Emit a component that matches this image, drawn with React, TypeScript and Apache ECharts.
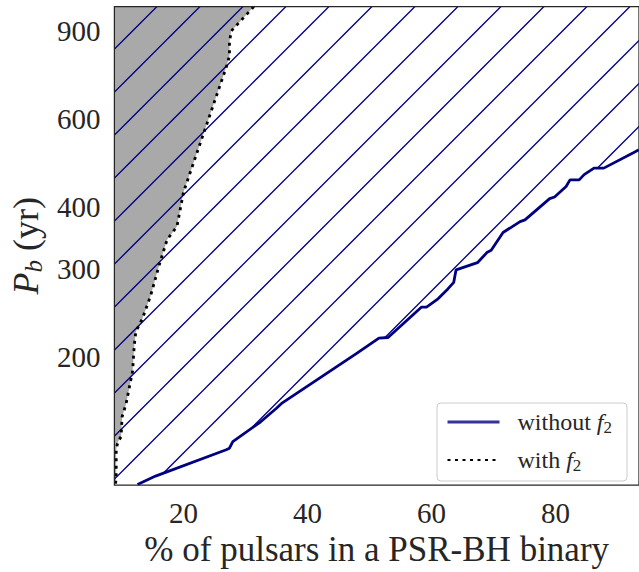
import React, { useEffect, useRef } from 'react';
import * as echarts from 'echarts';

// ---- data ----
const X_TICKS = [20, 40, 60, 80];
const Y_TICKS = [200, 300, 400, 600, 900];
const X_RANGE = [8.84, 93.46];
const Y_RANGE = [110.7, 1010];

// "without f2" (solid navy curve): % of pulsars vs P_b (yr)
const WITHOUT_X = [12.57, 15.48, 26.88, 27.4, 27.94, 32.44, 34.98, 35.93, 47.8, 51.51, 52.98, 58.39, 59.18, 61.04, 62.63, 63.58, 63.95, 67.4, 68.99, 69.62, 71.53, 74.28, 75.07, 79.05, 79.84, 81.7, 82.33, 83.81, 84.61, 86.2, 87.78, 92.55, 93.46];
const WITHOUT_P = [111.0, 115.4, 130.3, 131.3, 135.3, 148.3, 157.9, 161.9, 202.9, 218.3, 218.9, 252.0, 252.0, 261.8, 274.0, 282.4, 299.2, 309.3, 324.7, 327.7, 355.6, 374.0, 376.9, 415.8, 419.0, 439.9, 453.4, 453.4, 464.5, 478.7, 478.7, 514.1, 521.2];

// "with f2" (dotted black curve, boundary of the grey region)
const WITH_X = [9.03, 9.13, 9.13, 9.4, 9.92, 10.08, 10.72, 11.78, 12.05, 12.3, 13.37, 14.69, 16.02, 17.34, 18.93, 19.99, 26.88, 27.4, 27.4, 27.67, 31.37];
const WITH_P = [111.4, 115.4, 130.3, 135.3, 138.4, 151.7, 161.1, 187.5, 211.7, 224.9, 239.0, 265.8, 304.6, 344.0, 365.5, 428.6, 762.8, 804.1, 855.0, 901.3, 1010.6];

const SERIES_NAMES = ['without f2', 'with f2'];

const FONT = '"Liberation Serif", "DejaVu Serif", serif';
const INK = '#262626';
const NAVY = '#000080';

const HATCH_SVG =
  '<svg xmlns="http://www.w3.org/2000/svg" width="43" height="43">' +
  '<path d="M-2,36.5 L36.5,-2 M32.5,45 L45,32.5" stroke="#000080" stroke-width="1.3" fill="none"/></svg>';
const HATCH_URL = 'data:image/svg+xml;charset=utf-8,' + encodeURIComponent(HATCH_SVG);

export default function App() {
  const ref = useRef<HTMLDivElement>(null);

  useEffect(() => {
    if (!ref.current) return;
    const chart = echarts.init(ref.current, null, { renderer: 'svg' });

    const withoutPts = WITHOUT_X.map((x, i) => [x, WITHOUT_P[i]]);
    const withPts = WITH_X.map((x, i) => [x, WITH_P[i]]);

    const greyPoly = withPts.concat([
      [X_RANGE[0], Y_RANGE[1]],
      [X_RANGE[0], Y_RANGE[0]],
    ]);
    const hatchPoly = [[X_RANGE[0], Y_RANGE[0]]].concat(withoutPts, [
      [X_RANGE[1], Y_RANGE[1]],
      [X_RANGE[0], Y_RANGE[1]],
    ]);

    const polySeries = (name: string, pts: number[][], fill: any) => ({
      type: 'custom',
      name,
      silent: true,
      clip: true,
      data: [[X_RANGE[0], Y_RANGE[0]]],
      renderItem: (_p: any, api: any) => ({
        type: 'polygon',
        shape: { points: pts.map((p) => api.coord(p)) },
        style: { fill, stroke: 'none' },
      }),
    });

    const legendRich = {
      t: { fontFamily: FONT, fontSize: 24, color: INK, padding: [0, 0, 0, 13] },
      i: { fontFamily: FONT, fontSize: 24, fontStyle: 'italic', color: INK },
      s: { fontFamily: FONT, fontSize: 17, color: INK, verticalAlign: 'bottom', lineHeight: 20 },
    };

    chart.setOption({
      animation: false,
      backgroundColor: '#ffffff',
      textStyle: { fontFamily: FONT },
      grid: {
        show: true,
        z: 10,
        left: 111.5,
        top: 6.5,
        right: -5,
        bottom: 79.5,
        borderColor: INK,
        borderWidth: 1.25,
        backgroundColor: 'transparent',
      },
      xAxis: {
        type: 'value',
        min: X_RANGE[0],
        max: X_RANGE[1],
        axisLine: { show: false },
        axisTick: { show: false },
        splitLine: { show: false },
        axisLabel: {
          customValues: X_TICKS,
          fontFamily: FONT,
          fontSize: 29,
          color: INK,
          margin: 13,
        },
        name: '% of pulsars in a PSR-BH binary',
        nameLocation: 'middle',
        nameGap: 43,
        nameTextStyle: { fontFamily: FONT, fontSize: 35, color: INK },
      },
      yAxis: {
        type: 'log',
        min: Y_RANGE[0],
        max: Y_RANGE[1],
        axisLine: { show: false },
        axisTick: { show: false },
        splitLine: { show: false },
        minorTick: { show: false },
        axisLabel: {
          customValues: Y_TICKS,
          formatter: (v: number) => String(Math.round(v)),
          fontFamily: FONT,
          fontSize: 29,
          color: INK,
          margin: 14,
        },
        name: '{i|P}{s|b}{n| (yr)}',
        nameLocation: 'middle',
        nameRotate: 90,
        nameGap: 66,
        nameTextStyle: {
          rich: {
            i: { fontFamily: FONT, fontSize: 36, fontStyle: 'italic', color: INK, lineHeight: 40 },
            s: { fontFamily: FONT, fontSize: 25, fontStyle: 'italic', color: INK, verticalAlign: 'bottom', lineHeight: 24 },
            n: { fontFamily: FONT, fontSize: 36, color: INK, lineHeight: 40 },
          },
        },
      },
      legend: {
        orient: 'vertical',
        left: 437,
        top: 403,
        padding: [5, 15, 7, 9],
        itemGap: 10,
        itemWidth: 52,
        itemHeight: 14,
        backgroundColor: 'rgba(255,255,255,0.8)',
        borderColor: '#cccccc',
        borderWidth: 1,
        borderRadius: 4,
        itemStyle: { opacity: 0 },
        data: [
          { name: SERIES_NAMES[0], lineStyle: { color: '#333399', width: 3 }, itemStyle: { opacity: 0 } },
          { name: SERIES_NAMES[1], itemStyle: { opacity: 0 } },
        ],
        formatter: (name: string) =>
          name === SERIES_NAMES[0] ? '{t|without }{i|f}{s|2}' : '{t|with }{i|f}{s|2}',
        textStyle: { fontFamily: FONT, fontSize: 24, color: INK, lineHeight: 28, rich: legendRich },
      },
      series: [
        polySeries('grey region', greyPoly, '#a9a9a9'),
        polySeries('hatched region', hatchPoly, {
          image: HATCH_URL,
          repeat: 'repeat',
          imageWidth: 43,
          imageHeight: 43,
        }),
        {
          type: 'line',
          name: SERIES_NAMES[0],
          data: withoutPts,
          showSymbol: false,
          symbol: 'none',
          clip: true,
          lineStyle: { color: NAVY, width: 2.8 },
          itemStyle: { color: NAVY },
        },
        {
          type: 'line',
          name: SERIES_NAMES[1],
          data: withPts,
          showSymbol: false,
          symbol: 'none',
          clip: true,
          lineStyle: { color: '#000000', width: 2.8, type: [3, 4.5] },
          itemStyle: { color: '#000000' },
        },
      ],
    });

    return () => chart.dispose();
  }, []);

  return (
    <div
      ref={ref}
      style={{ position: 'absolute', left: 0, top: 0, width: 639, height: 572 }}
    />
  );
}
